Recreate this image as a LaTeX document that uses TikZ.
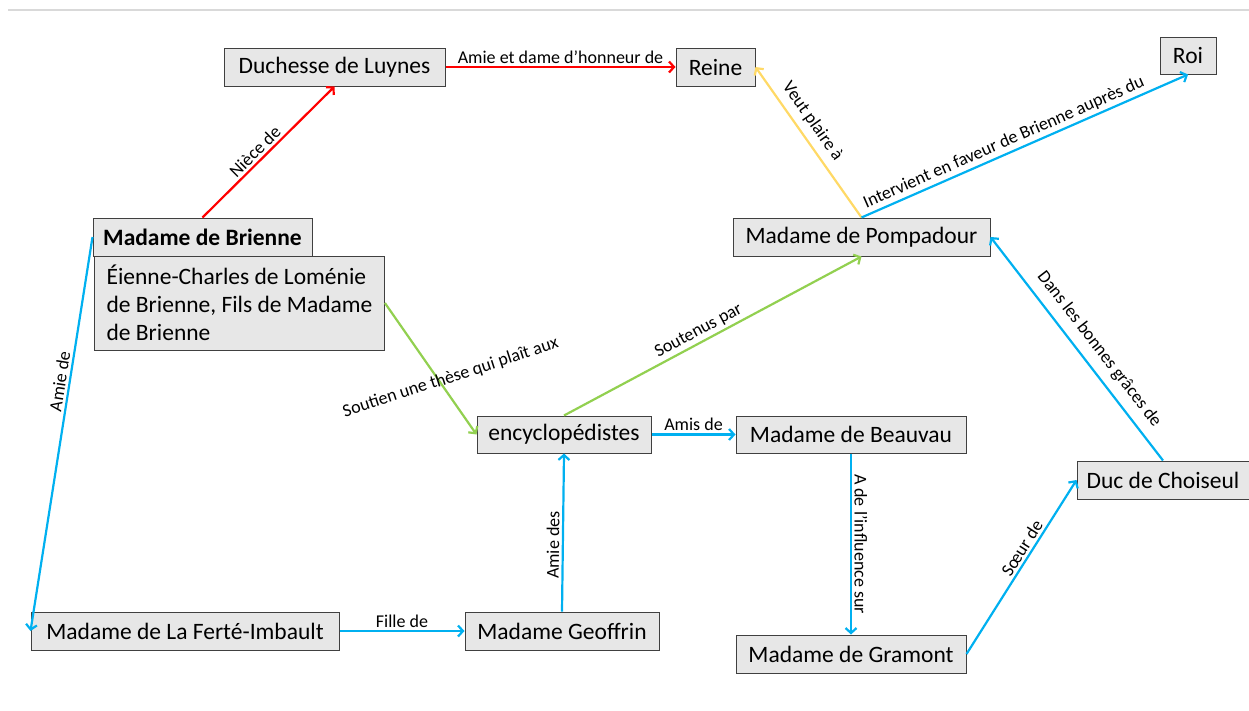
\documentclass[tikz,border=0pt]{standalone}
\usepackage{fontspec}
\setmainfont{Carlito}
\usepackage{xcolor}
\usepackage{tikz}
\usetikzlibrary{arrows.meta}

\definecolor{rouge}{HTML}{FF0000}
\definecolor{jaune}{HTML}{FFD966}
\definecolor{bleu}{HTML}{00B0F0}
\definecolor{vert}{HTML}{92D050}
\definecolor{fondgris}{HTML}{E7E7E7}
\definecolor{bordgris}{HTML}{404040}
\definecolor{filet}{HTML}{D9D9D9}

\begin{document}
\begin{tikzpicture}[x = 1pt, y = -1pt,
        perso/.style = {draw = bordgris, fill = fondgris, line width = 1pt,
            minimum height = 38, inner sep = 0pt, font = \fontsize{23.5}{28}\selectfont},
        lien/.style = {line width = 2.2pt, -{Straight Barb[length = 5pt, width = 11pt]}},
        etiq/.style = {text = black, font = \fontsize{18}{20}\selectfont, inner sep = 2.5pt}]
        \useasboundingbox (0, 0) rectangle (1249, 710);
        \draw[filet, line width = 1.5pt] (8, 10) -- (1249, 10);

        \node[perso, minimum width = 221] (duchesse) at (334.5, 67) {Duchesse de Luynes};
        \node[perso, minimum width = 79] (reine) at (715.5, 67) {Reine};
        \node[perso, minimum width = 56, minimum height = 37] (roi) at (1188, 55.5) {Roi};
        \node[perso, minimum width = 219, font = \fontsize{23.5}{28}\selectfont\bfseries] (brienne) at (202.5, 237) {Madame de Brienne};
        \node[perso, minimum width = 289, minimum height = 94, inner xsep = 12pt, align = left] (etienne) at (239.5, 303)
            {Éienne-Charles de Loménie\\de Brienne, Fils de Madame\\de Brienne\hspace*{112pt}};
        \node[perso, minimum width = 257] (pompadour) at (861.5, 237) {Madame de Pompadour};
        \node[perso, minimum width = 174, minimum height = 37] (encyclo) at (564, 434.5) {encyclopédistes};
        \node[perso, minimum width = 230, minimum height = 37] (beauvau) at (851, 434.5) {Madame de Beauvau};
        \node[perso, minimum width = 172] (choiseul) at (1163, 480) {Duc de Choiseul};
        \node[perso, minimum width = 308] (laferte) at (185, 631) {Madame de La Ferté-Imbault};
        \node[perso, minimum width = 194] (geoffrin) at (562, 631) {Madame Geoffrin};
        \node[perso, minimum width = 230] (gramont) at (851, 654) {Madame de Gramont};

        \draw[lien, rouge] (brienne.north) -- (duchesse.south)
            node[etiq, pos = .45, sloped, above] {Nièce de};
        \draw[lien, rouge] (duchesse.east) -- (reine.west)
            node[etiq, midway, above] {Amie et dame d’honneur de};
        \draw[lien, jaune] (pompadour.north) -- (reine.east)
            node[etiq, pos = .58, sloped, above = 4pt] {Veut plaire à};
        \draw[lien, bleu] (pompadour.north) -- (roi.south)
            node[etiq, pos = .45, sloped, above] {Intervient en faveur de Brienne auprès du};
        \draw[lien, vert] (etienne.east) -- (encyclo.west)
            node[etiq, midway, xshift = 20pt, yshift = -9pt, rotate = 18] {Soutien une thèse qui plaît aux};
        \draw[lien, vert] (encyclo.north) -- (pompadour.south)
            node[etiq, pos = .47, sloped, above] {Soutenus par};
        \draw[lien, bleu] (encyclo.east) -- (beauvau.west)
            node[etiq, midway, above] {Amis de};
        \draw[lien, bleu] (beauvau.south) -- (gramont.north)
            node[etiq, midway, sloped, above] {A de l’influence sur};
        \draw[lien, bleu] (gramont.east) -- (choiseul.west)
            node[etiq, pos = .58, sloped, above] {Sœur de};
        \draw[lien, bleu] (choiseul.north) -- (pompadour.east)
            node[etiq, pos = .45, sloped, above = 6pt] {Dans les bonnes grâces de};
        \draw[lien, bleu] (brienne.west) -- (laferte.west)
            node[etiq, pos = .37, sloped, above] {Amie de};
        \draw[lien, bleu] (laferte.east) -- (geoffrin.west)
            node[etiq, midway, above] {Fille de};
        \draw[lien, bleu] (geoffrin.north) -- (encyclo.south)
            node[etiq, pos = .42, sloped, above] {Amie des};
    \end{tikzpicture}
\end{document}
